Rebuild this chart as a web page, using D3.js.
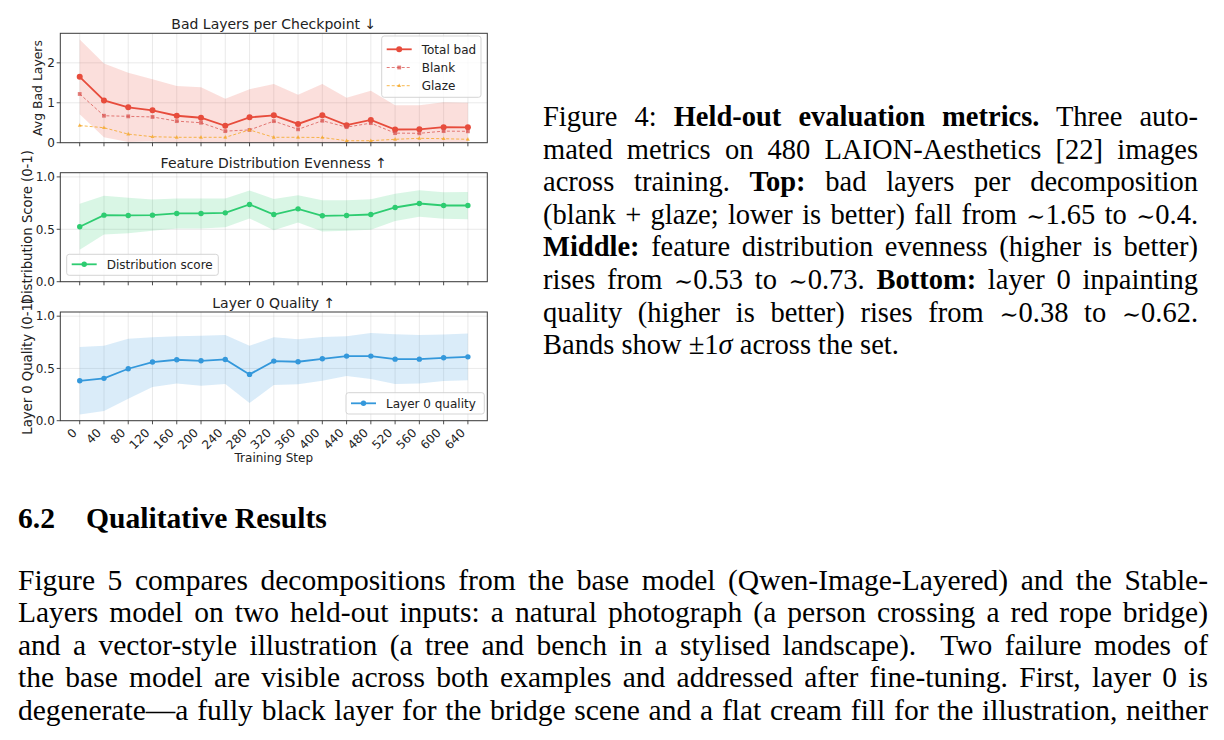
<!DOCTYPE html>
<html><head><meta charset="utf-8">
<script src="https://cdn.jsdelivr.net/npm/d3@7/dist/d3.min.js"></script>
<style>body{margin:0;background:#fff}svg{display:block}</style>
</head><body>
<svg id="c" width="1224" height="740"></svg>
<script>
// ---------------- data ----------------
const steps = [0,40,80,120,160,200,240,280,320,360,400,440,480,520,560,600,640];
const totalBad   = [1.65,1.06,0.885,0.81,0.675,0.625,0.425,0.635,0.685,0.47,0.685,0.44,0.57,0.33,0.335,0.39,0.385];
const totalBadSd = [0.935,0.925,0.865,0.78,0.745,0.765,0.675,0.705,0.785,0.73,0.785,0.685,0.73,0.61,0.605,0.62,0.615];
const blank      = [1.22,0.675,0.66,0.645,0.54,0.50,0.29,0.32,0.54,0.335,0.55,0.39,0.49,0.24,0.235,0.29,0.285];
const glaze      = [0.43,0.375,0.215,0.15,0.135,0.135,0.135,0.32,0.135,0.135,0.13,0.05,0.05,0.085,0.11,0.10,0.085];
const distScore  = [0.524,0.635,0.632,0.635,0.651,0.651,0.657,0.737,0.641,0.695,0.629,0.632,0.641,0.708,0.746,0.727,0.727];
const distSd     = [0.22,0.184,0.17,0.15,0.143,0.143,0.137,0.133,0.149,0.131,0.149,0.146,0.146,0.13,0.127,0.127,0.13];
const layer0     = [0.382,0.405,0.497,0.561,0.583,0.573,0.586,0.443,0.570,0.564,0.592,0.618,0.618,0.589,0.589,0.602,0.611];
const layer0Sd   = [0.322,0.311,0.286,0.238,0.226,0.239,0.235,0.273,0.229,0.216,0.21,0.191,0.22,0.239,0.232,0.223,0.224];
const yTicksBad  = [0,1,2];
const yTicksUnit = [0,0.5,1.0];
const titles  = ["Bad Layers per Checkpoint \u2193","Feature Distribution Evenness \u2191","Layer 0 Quality \u2191"];
const ylabels = ["Avg Bad Layers","Distribution Score (0-1)","Layer 0 Quality (0-1)"];
const xlabel  = "Training Step";
const legend1 = ["Total bad","Blank","Glaze"];
const legend2 = ["Distribution score"];
const legend3 = ["Layer 0 quality"];

// ---------------- chart ----------------
const svg = d3.select('#c');
const FONT = '"DejaVu Sans", sans-serif';
const X0 = 60.3, X1 = 487.3;
const x = d3.scaleLinear().domain([-32, 672]).range([X0, X1]);
const SPINE = '#3a3a3a';

const RED = '#e74c3c', BLANKC = '#d9534f', ORANGE = '#f5a623', GREEN = '#2ecc71', BLUE = '#3498db';

const panels = [
  {top:33.3, bottom:142.7, ymax:2.74, ticks:yTicksBad, fmt:d3.format('d'), ylx:42, yls:12.4},
  {top:172.7, bottom:281.7, ymax:1.04, ticks:yTicksUnit, fmt:d3.format('.1f'), ylx:32, yls:13.2},
  {top:312, bottom:420.7, ymax:1.04, ticks:yTicksUnit, fmt:d3.format('.1f'), ylx:32, yls:13.2}
];

function marker(g, type, cx, cy, color, size, opacity){
  if(type==='circle') g.append('circle').attr('cx',cx).attr('cy',cy).attr('r',size).attr('fill',color).attr('opacity',opacity);
  else if(type==='square') g.append('rect').attr('x',cx-size).attr('y',cy-size).attr('width',2*size).attr('height',2*size).attr('fill',color).attr('opacity',opacity);
  else g.append('path').attr('d',`M${cx},${cy-size*1.2}L${cx+size},${cy+size*0.7}L${cx-size},${cy+size*0.7}Z`).attr('fill',color).attr('opacity',opacity);
}

panels.forEach((p,i)=>{
  const y = d3.scaleLinear().domain([0,p.ymax]).range([p.bottom,p.top]);
  p.y = y;
  const g = svg.append('g');
  const cid = 'clip'+i;
  svg.append('clipPath').attr('id',cid).append('rect').attr('x',X0).attr('y',p.top).attr('width',X1-X0).attr('height',p.bottom-p.top);
  g.selectAll('.vg').data(steps).enter().append('line')
    .attr('x1',d=>x(d)).attr('x2',d=>x(d)).attr('y1',p.top).attr('y2',p.bottom)
    .attr('stroke','#b0b0b0').attr('stroke-opacity',0.3).attr('stroke-width',0.9);
  g.selectAll('.hg').data(p.ticks).enter().append('line')
    .attr('x1',X0).attr('x2',X1).attr('y1',d=>y(d)).attr('y2',d=>y(d))
    .attr('stroke','#b0b0b0').attr('stroke-opacity',0.3).attr('stroke-width',0.9);
  p.g = g; p.cid = cid;
});

function band(p, mean, sd, color){
  const area = d3.area().x((d,i)=>x(steps[i])).y0((d,i)=>p.y(mean[i]-sd[i])).y1((d,i)=>p.y(mean[i]+sd[i]));
  p.g.append('path').datum(mean).attr('d',area).attr('fill',color).attr('fill-opacity',0.18)
    .attr('clip-path',`url(#${p.cid})`);
}
function series(p, vals, color, opts){
  const line = d3.line().x((d,i)=>x(steps[i])).y(d=>p.y(d));
  const gg = p.g.append('g').attr('clip-path',`url(#${p.cid})`);
  gg.append('path').datum(vals).attr('d',line).attr('fill','none').attr('stroke',color)
    .attr('stroke-width',opts.lw).attr('stroke-opacity',opts.op).attr('stroke-dasharray',opts.dash||null);
  vals.forEach((v,i)=>marker(gg, opts.marker, x(steps[i]), p.y(v), color, opts.ms, opts.op));
}

band(panels[0], totalBad, totalBadSd, RED);
series(panels[0], totalBad, RED, {lw:1.8, op:1, marker:'circle', ms:3});
series(panels[0], blank, BLANKC, {lw:1, op:0.75, dash:'3,2', marker:'square', ms:1.9});
series(panels[0], glaze, ORANGE, {lw:1, op:0.8, dash:'3,2', marker:'tri', ms:1.9});

band(panels[1], distScore, distSd, GREEN);
series(panels[1], distScore, GREEN, {lw:1.8, op:1, marker:'circle', ms:2.7});

band(panels[2], layer0, layer0Sd, BLUE);
series(panels[2], layer0, BLUE, {lw:1.8, op:1, marker:'circle', ms:2.7});

panels.forEach((p,i)=>{
  const g = svg.append('g');
  g.append('rect').attr('x',X0).attr('y',p.top).attr('width',X1-X0).attr('height',p.bottom-p.top)
    .attr('fill','none').attr('stroke',SPINE).attr('stroke-width',1);
  g.selectAll('.xt').data(steps).enter().append('line')
    .attr('x1',d=>x(d)).attr('x2',d=>x(d)).attr('y1',p.bottom).attr('y2',p.bottom+3.6)
    .attr('stroke',SPINE).attr('stroke-width',0.9);
  g.selectAll('.yt').data(p.ticks).enter().append('line')
    .attr('x1',X0-3.6).attr('x2',X0).attr('y1',d=>p.y(d)).attr('y2',d=>p.y(d))
    .attr('stroke',SPINE).attr('stroke-width',0.9);
  g.selectAll('.yl').data(p.ticks).enter().append('text')
    .attr('x',X0-5.5).attr('y',d=>p.y(d)+4.3).attr('text-anchor','end')
    .attr('font-family',FONT).attr('font-size',12).attr('fill','#222').text(d=>p.fmt(d));
  g.append('text').attr('x',(X0+X1)/2).attr('y',p.top-4.5).attr('text-anchor','middle')
    .attr('font-family',FONT).attr('font-size',14).attr('fill','#222').text(titles[i]);
  g.append('text').attr('transform',`translate(${p.ylx},${(p.top+p.bottom)/2}) rotate(-90)`)
    .attr('text-anchor','middle').attr('font-family',FONT).attr('font-size',p.yls).attr('fill','#222').text(ylabels[i]);
});

const pb = panels[2];
svg.append('g').selectAll('text').data(steps).enter().append('text')
  .attr('transform',d=>`translate(${x(d)-2},${pb.bottom+13}) rotate(-45)`)
  .attr('text-anchor','end').attr('font-family',FONT).attr('font-size',12).attr('fill','#222')
  .text(d=>d);
svg.append('text').attr('x',(X0+X1)/2).attr('y',462).attr('text-anchor','middle')
  .attr('font-family',FONT).attr('font-size',12).attr('fill','#222').text(xlabel);

function legend(box, entries){
  const g = svg.append('g');
  g.append('rect').attr('x',box.x).attr('y',box.y).attr('width',box.w).attr('height',box.h)
    .attr('rx',2.5).attr('fill','#fff').attr('fill-opacity',0.8).attr('stroke','#d0d0d0').attr('stroke-width',0.9);
  entries.forEach((e,i)=>{
    const cy = box.y + box.first + i*box.step;
    g.append('line').attr('x1',box.x+5).attr('x2',box.x+30).attr('y1',cy).attr('y2',cy)
      .attr('stroke',e.color).attr('stroke-width',e.lw).attr('stroke-opacity',e.op).attr('stroke-dasharray',e.dash||null);
    marker(g, e.marker, box.x+17.5, cy, e.color, e.ms, e.op);
    g.append('text').attr('x',box.x+40).attr('y',cy+4.3).attr('font-family',FONT).attr('font-size',12)
      .attr('fill','#222').text(e.label);
  });
}
legend({x:381.7,y:36,w:99.3,h:61.3,first:13.3,step:18.2},[
  {label:legend1[0],color:RED,lw:1.8,op:1,marker:'circle',ms:3},
  {label:legend1[1],color:BLANKC,lw:1,op:0.75,dash:'3,2',marker:'square',ms:1.9},
  {label:legend1[2],color:ORANGE,lw:1,op:0.8,dash:'3,2',marker:'tri',ms:1.9}]);
legend({x:66.7,y:254.3,w:151.6,h:21,first:10,step:0},[
  {label:legend2[0],color:GREEN,lw:1.8,op:1,marker:'circle',ms:2.7}]);
legend({x:346,y:392.7,w:138.3,h:21.3,first:10.6,step:0},[
  {label:legend3[0],color:BLUE,lw:1.8,op:1,marker:'circle',ms:2.7}]);

// ---------------- surrounding text ----------------
const SERIF = '"Liberation Serif","Times New Roman",serif';
function textLine(xp, yp, parts, size, target){
  const t = svg.append('text').attr('x',xp).attr('y',yp).attr('font-family',SERIF).attr('font-size',size).attr('fill','#000')
    .style('white-space','pre');
  parts.forEach(pt=>{
    const s = t.append('tspan').text(pt.t);
    if(pt.b) s.attr('font-weight','bold');
    if(pt.i) s.attr('font-style','italic');
    if(pt.m) s.attr('font-family','"DejaVu Serif",serif').attr('font-size',size*0.8);
  });
  if(target){
    const len = t.node().getComputedTextLength();
    const n = parts.map(p=>p.t).join('').split(' ').length-1;
    if(n>0) t.attr('word-spacing',(target-len)/n);
  }
  return t;
}
const capX = 543, capW = 655, capSize = 28.5, capY0 = 126, capStep = 32.6;
const caption = [
  [{t:'Figure 4: '},{t:'Held-out evaluation metrics.',b:1},{t:' Three auto-'}],
  [{t:'mated metrics on 480 LAION-Aesthetics [22] images'}],
  [{t:'across training. '},{t:'Top:',b:1},{t:' bad layers per decomposition'}],
  [{t:'(blank + glaze; lower is better) fall from '},{t:'\u223C',m:1},{t:'1.65 to '},{t:'\u223C',m:1},{t:'0.4.'}],
  [{t:'Middle:',b:1},{t:' feature distribution evenness (higher is better)'}],
  [{t:'rises from '},{t:'\u223C',m:1},{t:'0.53 to '},{t:'\u223C',m:1},{t:'0.73. '},{t:'Bottom:',b:1},{t:' layer 0 inpainting'}],
  [{t:'quality (higher is better) rises from '},{t:'\u223C',m:1},{t:'0.38 to '},{t:'\u223C',m:1},{t:'0.62.'}],
  [{t:'Bands show \u00B11'},{t:'\u03C3',i:1},{t:' across the set.'}]
];
caption.forEach((parts,i)=>textLine(capX, capY0+i*capStep, parts, capSize, i<caption.length-1?capW:null));

textLine(18, 528, [{t:'6.2',b:1}], 29.6, null);
textLine(86, 528, [{t:'Qualitative Results',b:1}], 29.6, null);
const para = [
  'Figure 5 compares decompositions from the base model (Qwen-Image-Layered) and the Stable-',
  'Layers model on two held-out inputs: a natural photograph (a person crossing a red rope bridge)',
  'and a vector-style illustration (a tree and bench in a stylised landscape).  Two failure modes of',
  'the base model are visible across both examples and addressed after fine-tuning. First, layer 0 is',
  'degenerate\u2014a fully black layer for the bridge scene and a flat cream fill for the illustration, neither'
];
para.forEach((s,i)=>textLine(18, 590+i*32.4, [{t:s}], 29.5, 1190));
</script>
</body></html>
